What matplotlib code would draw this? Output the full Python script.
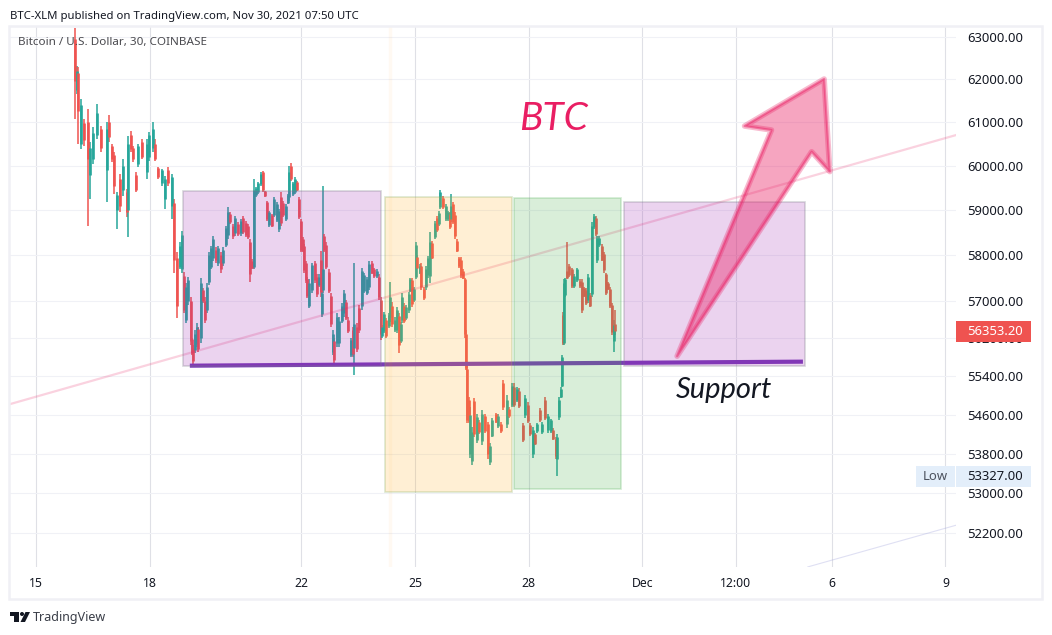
import numpy as np
import matplotlib
matplotlib.use("Agg")
import matplotlib.pyplot as plt
from matplotlib.patches import Polygon, Rectangle, Circle
from matplotlib.transforms import Affine2D

# x axis is day number counted from Nov 1 (Dec 1 = 31)
times = [
    16.03,16.08,16.11,16.19,16.27,16.37,16.43,16.50,16.61,16.72,16.87,16.93,17.01,17.06,17.14,17.22,17.30,17.40,
    17.43,17.51,17.56,17.64,17.69,17.80,17.93,17.98,18.09,18.14,18.22,18.33,18.40,18.48,18.59,18.64,18.72,18.80,
    18.85,18.90,18.96,19.01,19.09,19.12,19.14,19.20,19.25,19.28,19.35,19.41,19.46,19.51,19.57,19.62,19.67,19.75,19.80,19.88,19.93,20.01,20.07,20.12,20.20,20.25,20.33,20.41,20.46,20.54,20.59,20.65,20.70,20.75,20.81,20.86,20.94,20.99,21.04,21.10,21.15,21.23,21.28,21.36,21.41,21.47,21.52,21.60,21.65,
    21.68,21.73,21.78,21.84,21.89,21.94,21.99,22.05,22.07,22.13,22.15,22.20,22.28,22.36,22.41,22.47,22.52,22.55,22.57,22.60,22.65,22.73,22.79,22.84,22.86,22.94,23.00,23.08,23.13,23.18,23.23,23.31,23.37,23.39,23.47,23.52,23.60,23.66,23.73,23.79,23.87,23.92,24.00,24.05,24.10,
    24.13,24.18,24.24,24.32,24.34,24.39,24.47,24.53,24.58,24.63,24.66,24.71,24.76,24.84,24.87,24.92,24.97,25.03,25.05,25.13,25.16,25.24,25.29,25.34,25.40,25.45,25.53,25.58,25.63,25.66,25.74,25.82,25.87,25.92,25.95,26.00,26.06,26.11,26.16,26.22,26.27,26.32,26.35,26.37,26.43,
    26.45,26.51,26.56,26.64,26.69,26.77,26.85,26.93,26.98,27.03,27.14,27.19,27.27,27.32,27.43,27.48,27.56,27.61,27.69,27.75,27.85,27.90,27.98,28.04,28.12,28.17,28.22,28.30,28.35,28.43,28.51,28.59,28.64,28.72,28.75,
    28.80,28.85,28.88,28.91,28.93,28.96,29.01,29.07,29.14,29.20,29.28,29.36,29.41,29.46,29.51,29.57,29.62,29.67,29.73,29.78,29.80,29.86,29.94,29.99,30.04,30.10,30.15,30.20,30.25,30.28,
]
highs = [
    63210,62300,62280,61530,61070,61300,60550,60890,61420,60910,61000,61160,60500,60320,59410,59820,60160,59480,
    60680,60800,60460,59860,60500,60610,60610,60770,61000,60610,59980,59930,59770,59980,59820,59250,58070,58290,
    58530,57640,57400,57530,57090,56220,56050,56370,56520,56440,57510,57290,57090,57400,58070,58200,58420,58180,58200,58070,58180,58640,59070,58960,58690,58870,58730,58800,58870,58760,58690,58360,57910,59700,59520,59640,59860,59890,59430,59200,58980,58910,59300,59180,59020,59410,59200,59140,59360,
    60000,60070,59640,59750,59660,59300,58800,58400,58250,57870,57530,57470,57840,57870,57580,57580,58090,57240,59550,58470,58290,57690,57180,56370,56220,56740,56650,56960,57240,57020,56650,56220,56440,57820,56520,56910,57730,57620,57530,57870,57870,57730,57690,57580,57090,
    56480,56760,56630,56740,57420,56980,56650,56870,56740,56550,57180,56960,56910,57200,57510,57510,57310,58290,58000,57800,57820,57310,57760,57980,58510,58310,58760,58870,58980,59450,59320,59140,58980,58960,59360,59180,58960,58360,57960,57960,57690,57510,56370,55630,54960,
    54750,54340,54940,54620,54480,54690,54620,54440,54010,54540,54640,54620,54440,55320,55000,54750,55250,55250,55170,55150,54420,55000,54860,54420,54340,54230,54420,54730,54440,54960,54620,54520,54320,54130,54210,
    54960,55170,55840,56760,57470,57510,58290,57800,57730,57580,57730,57470,57470,57310,57290,57580,57180,58730,58910,58870,58420,58420,58250,58070,57620,57420,57310,56960,56590,56810,
]
lows = [
    61070,61650,60500,60390,60460,58640,59250,60050,60610,60320,59180,60550,60090,59360,58580,58960,59320,58840,
    58400,60320,60090,59410,59980,60160,59700,60110,60320,60110,59700,59550,59020,59550,58800,57620,56630,57690,
    57620,56740,56520,56910,56050,55840,55630,55890,56010,55910,56100,56960,56520,56740,57360,57690,57870,57840,57760,57620,57760,58180,58360,58690,58360,58420,58420,58420,58470,58400,58360,57420,57690,57690,59300,59360,59550,59410,59300,58760,58620,58620,58840,58730,58510,58640,58840,58760,59140,
    59200,59660,59320,59360,59430,58800,58070,58070,57620,57400,57070,56850,57180,57400,57090,57310,57090,56650,57180,58070,57690,57180,56440,55840,55670,56010,56010,56520,56650,56590,56310,55800,55800,55420,55910,56310,56810,57180,57130,57240,57580,57510,57510,57020,56160,
    56220,56310,56220,56420,56550,56440,56330,56310,55890,56100,56520,56520,56590,56740,57200,56870,56980,57470,57690,57580,57240,57020,57240,57510,57400,57910,58360,58510,58640,59020,59020,58760,58760,58580,58730,58690,58360,58070,57730,57510,57470,56220,55530,54420,54420,
    53720,53560,54130,54010,54210,53970,54230,53700,53560,54130,54420,54320,54230,54690,54320,54540,54750,54750,54860,54730,54030,54540,54420,54170,53720,53970,54230,54440,54210,54480,54230,54230,54070,53700,53340,
    54480,54940,55170,56050,56050,57090,57470,57530,57290,57290,57420,57290,56740,57090,56910,56960,56870,57090,58580,58420,57840,58180,57870,57620,57130,57240,56850,56270,55910,56270,
]
opens = [
    62950,61750,62150,60500,60980,61000,59800,60150,60700,60850,59900,61000,60450,60250,59000,59700,59450,59400,
    59000,60700,60400,59800,60050,60550,59850,60200,60400,60500,59950,59600,59250,59900,59100,59150,57950,57750,
    57700,57550,56600,57000,57000,56180,56000,55950,56080,56400,56200,57250,57000,56800,57420,57750,57950,58120,57820,58000,57820,58220,58450,58920,58650,58480,58700,58480,58820,58720,58650,58300,57880,57750,59330,59400,59580,59850,59420,59180,58660,58880,58880,58780,58580,59300,59150,58800,59170,
    59300,60000,59360,59400,59630,59250,58750,58350,58200,57820,57480,56900,57250,57820,57520,57350,57900,56720,57250,58420,58230,57640,57120,55920,56150,56100,56100,56580,56750,56980,56600,55850,56380,56000,56450,56850,56900,57230,57180,57300,57830,57700,57540,57530,57020,
    56260,56360,56590,56460,56650,56900,56370,56380,56680,56150,56600,56900,56630,56800,57230,57450,57020,57530,57960,57620,57770,57270,57300,57560,57550,58270,58400,58820,58680,59060,59280,58800,58800,58920,58800,59130,58900,58320,57930,57900,57650,57470,56300,55550,54900,
    53800,53650,54880,54080,54450,54050,54580,54400,53620,54170,54610,54360,54410,55250,54400,54720,54800,55180,54900,55100,54380,54600,54810,54380,53800,54200,54260,54690,54250,54900,54280,54270,54280,54090,53700,
    54550,54960,55200,56700,56100,57130,57650,57770,57690,57320,57460,57440,57420,57280,57250,57020,57140,57150,58620,58820,57900,58220,58200,58030,57580,57390,57270,56910,56150,56500,
]
closes = [
    61950,62200,61250,61400,60600,60150,60400,60750,61200,60400,60850,60650,60150,59550,59350,59100,60000,58950,
    60500,60380,60150,59450,60450,60200,60500,60700,60850,60150,59750,59900,59700,59600,59750,57900,56900,58200,
    58450,56800,57300,57450,56150,55900,55720,56300,56450,55980,57400,57000,56600,57300,58000,58150,58350,57900,58150,57700,58120,58600,58950,58740,58420,58820,58470,58750,58520,58450,58400,57600,57720,59450,59490,59600,59820,59450,59320,58800,58950,58650,59250,59130,58980,58720,58880,59100,59330,
    59850,59700,59600,59700,59460,58850,58120,58100,57680,57450,57120,57400,57780,57450,57150,57530,57200,57180,57700,58120,57750,57230,56500,56300,55750,56650,56580,56900,57180,56640,56350,56170,55880,56500,55980,56380,57650,57560,57480,57800,57620,57540,57660,57080,56300,
    56440,56720,56260,56700,57100,56500,56600,56800,56050,56500,57100,56580,56870,57150,57470,56930,57270,58230,57730,57770,57300,57060,57700,57930,58300,57950,58720,58560,58940,59400,59060,59100,58950,58620,59100,58730,58420,58100,57760,57560,57500,56300,55580,54480,54460,
    54600,54250,54200,54550,54250,54620,54270,53800,53950,54500,54450,54580,54260,54750,54900,54570,55200,54800,55130,54780,54070,54950,54470,54200,54280,54000,54400,54480,54410,54530,54580,54480,54100,53750,54150,
    54900,55130,55800,56100,57400,57470,57500,57560,57330,57550,57690,57320,56800,57120,56950,57530,56900,58650,58870,58470,58380,58380,57900,57670,57180,57270,56900,56330,56480,56353.2,
]

price_ticks = [63000, 62000, 61000, 60000, 59000, 58000, 57000, 56200, 55400, 54600, 53800, 53000, 52200]
time_ticks = [15, 18, 22, 25, 28, 31, 33.47, 36, 39]
time_labels = ["15", "18", "22", "25", "28", "Dec", "12:00", "6", "9"]

last_price = 56353.20
low_price = 53327.00

# drawings: day from, day to, price low, price high
purple_box = [18.87, 24.10, 55610, 59440]
yellow_box = [24.20, 27.57, 53030, 59290]
green_box = [27.61, 30.45, 53090, 59270]
target_box = [30.52, 35.29, 55610, 59180]

trend_days = [14.31, 39.28]
trend_prices = [54818, 60702]
lower_trend_days = [35.37, 39.28]
lower_trend_prices = [51540, 52360]
support_days = [19.06, 35.24]
support_prices = [55623, 55708]
arrow_days = [31.92, 34.41, 33.70, 35.80, 35.95, 35.47]
arrow_prices = [55824, 60818, 60910, 62005, 59868, 60319]

W, H = 1052, 635
RED = "#ef5350"
GREEN = "#26a69a"
TEXT = "#131722"
FONT = "Noto Sans"

plt.rcParams["font.family"] = [FONT, "DejaVu Sans"]

fig = plt.figure(figsize=(W / 100, H / 100), dpi=100)
ax = fig.add_axes([10 / W, 1 - 567 / H, 946 / W, 540 / H])
px = Affine2D().scale(1 / W, -1 / H).translate(0, 1) + fig.transFigure

ax.set_yscale("log")
ax.set_xlim(14.314, 39.28)
ax.set_ylim(51538, 63239)

ax.set_yticks(price_ticks)
ax.set_yticklabels([f"{p:.2f}" for p in price_ticks], fontsize=9.4, color=TEXT)
ax.yaxis.set_minor_locator(plt.NullLocator())
ax.yaxis.tick_right()
ax.set_xticks(time_ticks)
ax.set_xticklabels(time_labels, fontsize=8.8, color=TEXT)
ax.get_xticklabels()[5].set_fontweight("bold")
ax.tick_params(axis="both", length=0)
ax.tick_params(axis="y", pad=8)
ax.tick_params(axis="x", pad=7)
for s in ax.spines.values():
    s.set_visible(False)
ax.set_axisbelow(True)
ax.grid(axis="x", color="#dfe0e6", lw=0.8)
ax.grid(axis="y", color="#f0f1f6", lw=0.8)

# candles
t = np.array(times)
o = np.array(opens)
c = np.array(closes)
colors = [GREEN if b >= a else RED for a, b in zip(o, c)]
ax.vlines(t, lows, highs, colors=colors, lw=1.1, zorder=2)
ax.vlines(t, o, c, colors=colors, lw=1.9, zorder=2)

# channel, support
ax.plot(trend_days, trend_prices, color="#e91e63", alpha=0.2, lw=1.6, zorder=3)
ax.plot(lower_trend_days, lower_trend_prices, color="#9598d8", alpha=0.3, lw=0.8, zorder=3)
ax.plot(support_days, support_prices, color="#7b3cb8", lw=3, solid_capstyle="butt", zorder=3)
ax.axvline(24.34, color="#ff9800", alpha=0.05, lw=2.5, zorder=3)

# boxes go over the candles, that is how they were drawn in the original
def add_box(box, face, edge):
    x0, x1, y0, y1 = box
    ax.add_patch(Rectangle((x0, y0), x1 - x0, y1 - y0, facecolor=face, edgecolor=edge, lw=1.2, zorder=4))

add_box(purple_box, (156 / 255, 39 / 255, 176 / 255, 0.2), (120 / 255, 123 / 255, 134 / 255, 0.3))
add_box(yellow_box, (255 / 255, 175 / 255, 30 / 255, 0.19), (130 / 255, 170 / 255, 90 / 255, 0.28))
add_box(green_box, (76 / 255, 175 / 255, 80 / 255, 0.21), (76 / 255, 175 / 255, 80 / 255, 0.25))
add_box(target_box, (156 / 255, 39 / 255, 176 / 255, 0.2), (120 / 255, 123 / 255, 134 / 255, 0.3))

# arrow with a soft outer edge
arrow = np.column_stack([arrow_days, arrow_prices])
ax.add_patch(Polygon(arrow, closed=True, facecolor=(233 / 255, 30 / 255, 99 / 255, 0.4),
                     edgecolor=(233 / 255, 30 / 255, 99 / 255, 0.3), lw=4, joinstyle="round", zorder=5))
ax.add_patch(Polygon(arrow, closed=True, facecolor="none",
                     edgecolor=(233 / 255, 30 / 255, 99 / 255, 0.45), lw=1.6, joinstyle="round", zorder=5))

ax.text(28.67, 61070, "BTC", family="Lato", style="italic", fontsize=28, color="#e91e63",
        ha="center", va="center", zorder=6)
ax.text(33.16, 55105, "Support", family="Lato", style="italic", fontsize=21, color="#131722",
        ha="center", va="center", zorder=6)

# page frame and header
fig.add_artist(Rectangle((9, 26), 1033, 573, transform=px, facecolor="none", edgecolor="#f0f0f5", lw=1.8))
fig.text(10 / W, 1 - 16 / H, "BTC-XLM published on TradingView.com, Nov 30, 2021 07:50 UTC",
         fontsize=8.2, color=TEXT, va="center")
fig.text(18 / W, 1 - 43 / H, "Bitcoin / U.S. Dollar, 30, COINBASE", fontsize=8.4, color="#4a4a4f", va="center")

# price labels on the scale
def price_y(p):
    return H - ax.transData.transform((20, p))[1]

y_last = price_y(last_price)
fig.add_artist(Rectangle((956, y_last - 10.5), 75, 21, transform=px, facecolor=RED, edgecolor="none"))
fig.text(995 / W, 1 - y_last / H, f"{last_price:.2f}", fontsize=9.4, color="white", ha="center", va="center")
y_low = price_y(low_price)
fig.add_artist(Rectangle((916, y_low - 10.5), 38.5, 21, transform=px, facecolor="#e3eefa", edgecolor="none"))
fig.add_artist(Rectangle((956, y_low - 10.5), 75, 21, transform=px, facecolor="#e3eefa", edgecolor="none"))
fig.text(935 / W, 1 - y_low / H, "Low", fontsize=9.4, color="#4c525e", ha="center", va="center")
fig.text(995 / W, 1 - y_low / H, f"{low_price:.2f}", fontsize=9.4, color=TEXT, ha="center", va="center")

# TradingView logo
fig.add_artist(Polygon([(10, 612), (19, 612), (19, 622), (14, 622), (14, 616), (10, 616)],
                       transform=px, facecolor=TEXT, edgecolor="none"))
fig.add_artist(Circle((22, 614), 2, transform=px, facecolor=TEXT, edgecolor="none"))
fig.add_artist(Polygon([(25.5, 612), (30, 612), (25, 622), (20.5, 622)], transform=px, facecolor=TEXT, edgecolor="none"))
fig.text(33 / W, 1 - 617 / H, "TradingView", fontsize=9, color="#3a3e48", va="center")

fig.savefig("out.png", dpi=100, facecolor="white")
